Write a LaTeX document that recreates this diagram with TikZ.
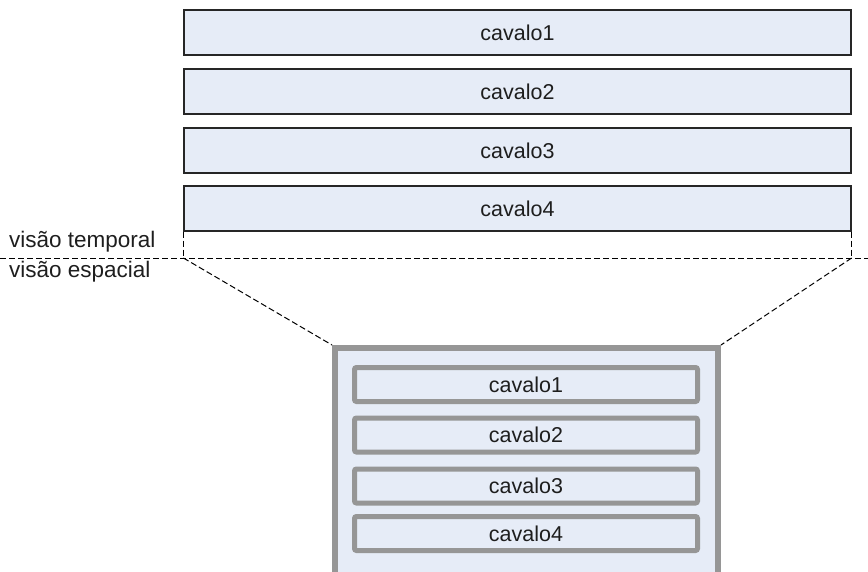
\documentclass[tikz,border=0pt]{standalone}
\usepackage{fontspec}
\setmainfont{Liberation Sans}
\usetikzlibrary{positioning}

\definecolor{cavalofill}{RGB}{230,236,247}
\definecolor{framegray}{RGB}{150,150,150}
\definecolor{textgray}{RGB}{30,30,30}

\tikzset{
    timebox/.style={draw=black!85, fill=cavalofill, rectangle, line width=1.2pt, minimum width=667pt, minimum height=45pt, text=textgray, font=\fontsize{21.5}{25}\selectfont},
    spacebox/.style={draw=framegray, fill=cavalofill, rectangle, rounded corners=2pt, line width=5pt, minimum width=343pt, minimum height=34pt, text=textgray, font=\fontsize{21.5}{25}\selectfont},
    cut/.style={dash pattern=on 6pt off 3pt, line width=1pt}
}

\begin{document}
\begin{tikzpicture}[x=1pt, y=-1pt]
                \useasboundingbox (0,0) rectangle (868,571);

                % Temporal view
                \foreach \i/\y in {1/32.5,2/91.5,3/150.5,4/208.5} {
                    \node[timebox] (t\i) at (517.5, \y) {cavalo\i};
                }

                % Spatial view (frame runs off the bottom)
                \begin{scope}
                    \clip (0,0) rectangle (868,571);
                    \node[draw=framegray, fill=cavalofill, rectangle, line width=6pt, minimum width=383pt, minimum height=260pt, anchor=north west] (frame) at (332, 345) {};
                \end{scope}
                \foreach \i/\y in {1/384.5,2/435,3/486,4/533.5} {
                    \node[spacebox] (s\i) at (526, \y) {cavalo\i};
                }

                % Dividing line
                \coordinate (divl) at (0, 258);
                \coordinate (divr) at (868, 258);
                \coordinate (cutl) at (t4.south west |- divl);
                \coordinate (cutr) at (t4.south east |- divl);
                \draw[cut] (divl) -- (divr);
                \draw[cut] (t4.south west) -- (cutl);
                \draw[cut] (t4.south east) -- (cutr);
                \draw[cut] (cutl) -- (frame.north west);
                \draw[cut] (cutr) -- (frame.north east);

                \node[anchor=west, inner sep=0pt, text=textgray, font=\fontsize{22.5}{26}\selectfont] (temporal) at (9, 242) {visão temporal};
                \node[anchor=west, inner sep=0pt, text=textgray, font=\fontsize{22.5}{26}\selectfont] (espacial) at (9, 272) {visão espacial};

            \end{tikzpicture}
\end{document}
